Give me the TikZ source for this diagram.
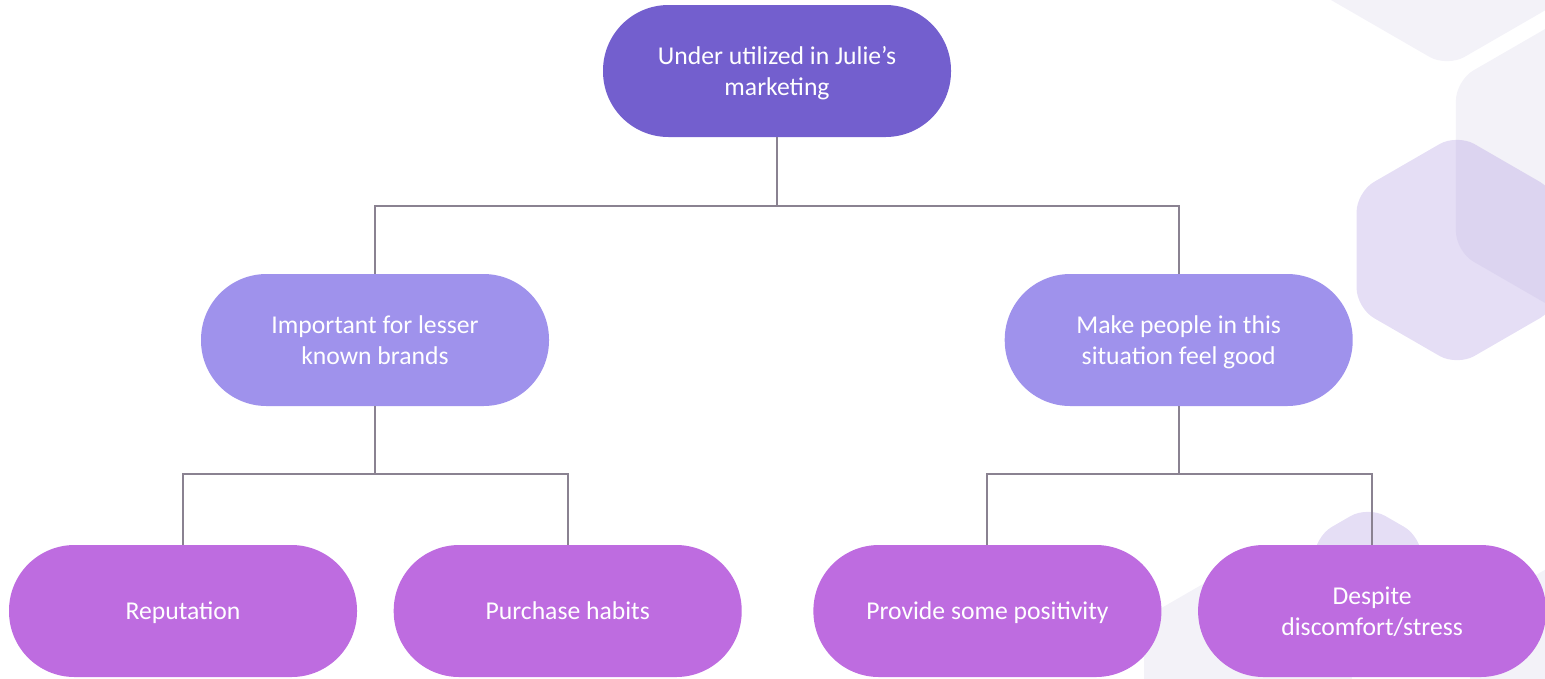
\documentclass[tikz,border=0pt]{standalone}
\usepackage{fontspec}
\setmainfont{Carlito}
\usepackage{xcolor}
\usepackage{tikz}
\usetikzlibrary{positioning}
\definecolor{rootviolet}{RGB}{115,95,206}
\definecolor{midlilac}{RGB}{159,146,236}
\definecolor{leafpink}{RGB}{190,108,224}
\definecolor{linkgray}{RGB}{138,130,145}
\definecolor{hexgray}{RGB}{243,242,248}
\definecolor{hexlilac}{RGB}{168,145,222}

\begin{document}
\begin{tikzpicture}[every node/.style={rounded corners=1.31cm, minimum width=6.96cm,
minimum height=2.64cm, inner sep=0pt, align=center, text=white, text depth=0pt,
font=\fontsize{14.6}{18}\selectfont},
link/.style={draw=linkgray, line width=1.1pt},
hexbg/.style={fill=hexgray, rounded corners=0.4cm},
hexpale/.style={fill=hexlilac, fill opacity=0.3, rounded corners=0.4cm}]
\clip (0,0) rectangle (30.9,-13.56);
\foreach \c/\r in {(28.94,2.08)/3.42, (32.08,-3.32)/3.42, (24.96,-13.56)/2.4, (32.0,-13.76)/3.0}
  \fill[hexbg, shift={\c}] (30:\r) -- (90:\r) -- (150:\r) -- (210:\r) -- (270:\r) -- (330:\r) -- cycle;
\foreach \c/\r in {(29.14,-5.0)/2.32, (27.36,-11.36)/1.24}
  \fill[hexpale, shift={\c}] (30:\r) -- (90:\r) -- (150:\r) -- (210:\r) -- (270:\r) -- (330:\r) -- cycle;
\node[fill=rootviolet] (root) at (15.54,-1.42) {Under utilized in Julie's\\marketing};
\node[fill=midlilac] (lesser) at (7.50,-6.80) {Important for lesser\\known brands};
\node[fill=midlilac, right=9.10cm of lesser] (feel) {Make people in this\\situation feel good};
\node[fill=leafpink] (rep) at (3.66,-12.22) {Reputation};
\node[fill=leafpink, right=0.72cm of rep] (habits) {Purchase habits};
\node[fill=leafpink, right=1.42cm of habits] (positivity) {Provide some positivity};
\node[fill=leafpink, right=0.72cm of positivity] (stress) {Despite\\discomfort/stress};
\draw[link] (root.south) -- ++(0,-1.38) -| (lesser.north);
\draw[link] (root.south) -- ++(0,-1.38) -| (feel.north);
\draw[link] (lesser.south) -- ++(0,-1.36) -| (rep.north);
\draw[link] (lesser.south) -- ++(0,-1.36) -| (habits.north);
\draw[link] (feel.south) -- ++(0,-1.36) -| (positivity.north);
\draw[link] (feel.south) -- ++(0,-1.36) -| (stress.north);
\end{tikzpicture}
\end{document}
